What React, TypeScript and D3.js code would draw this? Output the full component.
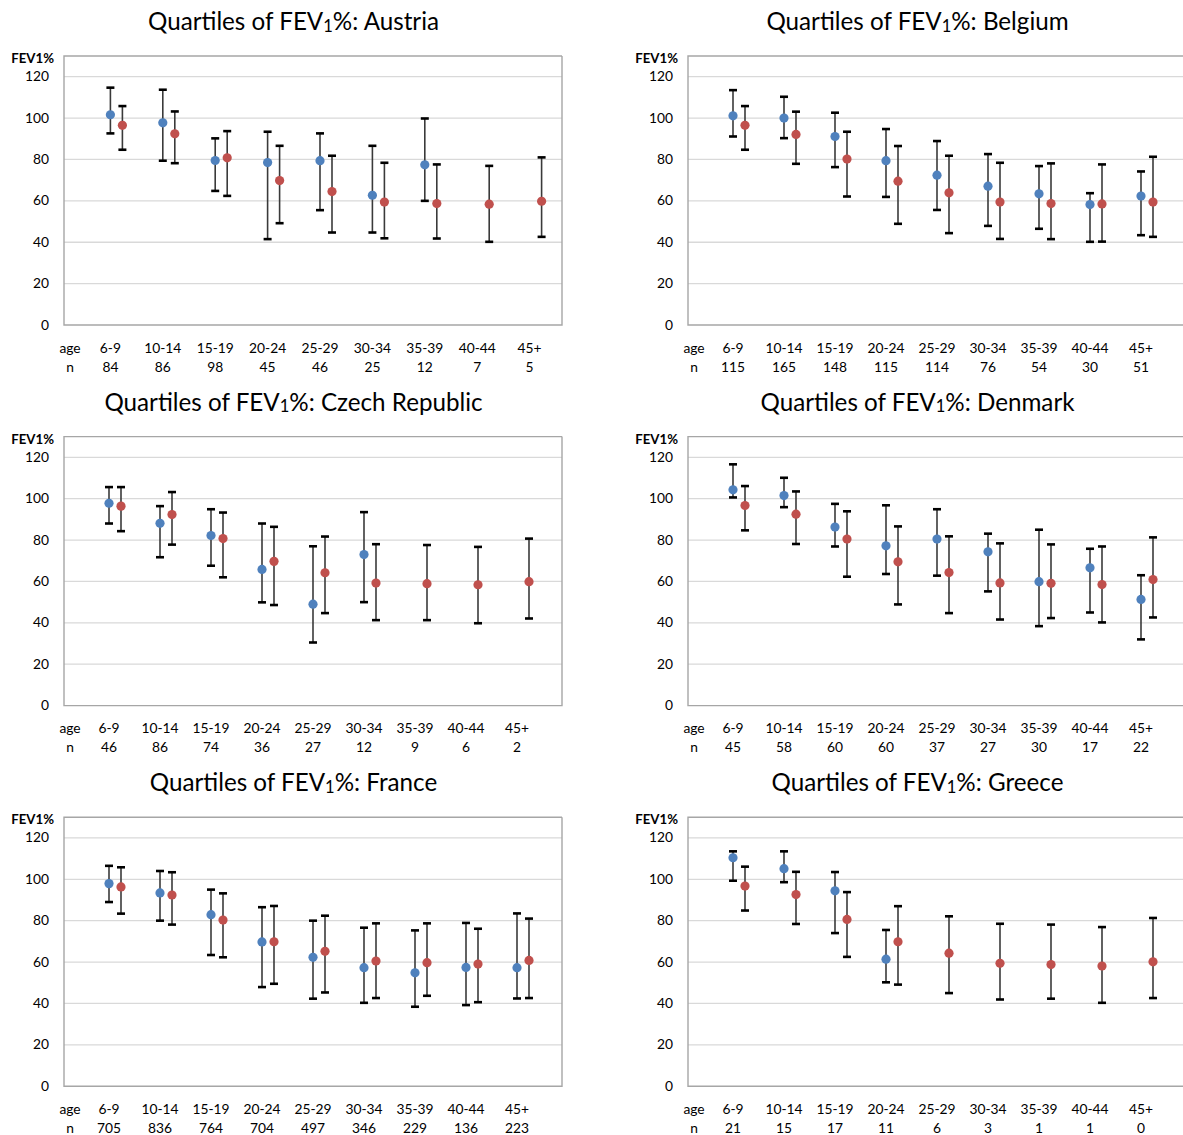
import React from "react";
import * as d3 from "d3";

// Age bands shown along the bottom of every panel
const ageGroups = ["6-9", "10-14", "15-19", "20-24", "25-29", "30-34", "35-39", "40-44", "45+"];
const yTicks = [0, 20, 40, 60, 80, 100, 120];

// Sample sizes per age band
const austriaN = [84, 86, 98, 45, 46, 25, 12, 7, 5];
const belgiumN = [115, 165, 148, 115, 114, 76, 54, 30, 51];
const czechN = [46, 86, 74, 36, 27, 12, 9, 6, 2];
const denmarkN = [45, 58, 60, 60, 37, 27, 30, 17, 22];
const franceN = [705, 836, 764, 704, 497, 346, 229, 136, 223];
const greeceN = [21, 15, 17, 11, 6, 3, 1, 1, 0];

// Observed quartiles [Q1, median, Q3] of FEV1% (null = too few patients)
const austriaObserved = [
  [92.6, 101.6, 114.7], [79.4, 97.7, 113.7], [64.8, 79.5, 90.2], [41.5, 78.5, 93.4],
  [55.5, 79.4, 92.6], [44.7, 62.7, 86.6], [60, 77.4, 99.8], null, null,
];
const belgiumObserved = [
  [91.1, 101.1, 113.5], [90.3, 100, 110.3], [76.3, 91.1, 102.6], [61.9, 79.4, 94.7],
  [55.6, 72.4, 88.9], [47.9, 67.1, 82.6], [46.5, 63.4, 76.8], [40.2, 58.2, 63.7], [43.4, 62.3, 74.2],
];
const czechObserved = [
  [88, 97.8, 105.6], [71.7, 88.1, 96.4], [67.6, 82.2, 94.9], [49.9, 65.8, 88],
  [30.5, 49, 77], [50, 73, 93.5], null, null, null,
];
const denmarkObserved = [
  [100.6, 104.3, 116.6], [95.9, 101.5, 110.1], [76.9, 86.3, 97.5], [63.6, 77.2, 96.8],
  [62.8, 80.5, 94.9], [55.2, 74.3, 83.1], [38.4, 59.9, 85], [45, 66.6, 75.8], [32, 51.3, 63],
];
const franceObserved = [
  [89, 97.9, 106.5], [80, 93.4, 104], [63.4, 82.9, 95], [47.9, 69.7, 86.5],
  [42.3, 62.3, 80], [40.3, 57.3, 76.6], [38.4, 54.8, 75.3], [39.2, 57.4, 78.9], [42.4, 57.3, 83.5],
];
const greeceObserved = [
  [99.3, 110.4, 113.5], [98.6, 105.1, 113.5], [74, 94.4, 103.5], [50.2, 61.4, 75.5],
  null, null, null, null, null,
];

// Expected quartiles [Q1, median, Q3] for the same age bands
const austriaExpected = [
  [84.7, 96.5, 105.8], [78.2, 92.4, 103.2], [62.4, 80.8, 93.7], [49.2, 69.8, 86.6],
  [44.7, 64.5, 81.8], [41.9, 59.4, 78.4], [41.8, 58.7, 77.6], [40.2, 58.4, 76.9], [42.6, 59.8, 81],
];
const belgiumExpected = [
  [84.7, 96.5, 105.8], [77.9, 92.1, 103.1], [62.1, 80.2, 93.4], [48.9, 69.5, 86.5],
  [44.4, 63.9, 81.8], [41.6, 59.4, 78.4], [41.5, 58.7, 78.1], [40.3, 58.5, 77.6], [42.6, 59.4, 81.3],
];
const czechExpected = [
  [84.3, 96.4, 105.6], [77.8, 92.3, 103.2], [62, 80.7, 93.3], [48.6, 69.7, 86.4],
  [44.7, 64.2, 81.7], [41.3, 59.2, 78], [41.3, 58.9, 77.6], [39.8, 58.4, 76.7], [42.1, 59.9, 80.7],
];
const denmarkExpected = [
  [84.7, 96.7, 106.1], [78.1, 92.5, 103.5], [62.3, 80.5, 93.9], [48.9, 69.5, 86.6],
  [44.7, 64.3, 81.8], [41.6, 59.3, 78.4], [42.3, 59.1, 77.9], [40.2, 58.5, 76.9], [42.6, 60.9, 81.3],
];
const franceExpected = [
  [83.4, 96.3, 105.8], [78.1, 92.4, 103.4], [62.3, 80.3, 93.2], [49.5, 69.8, 87.1],
  [45.3, 65.2, 82.4], [42.6, 60.5, 78.7], [43.7, 59.7, 78.7], [40.6, 59, 76.1], [42.6, 60.8, 81],
];
const greeceExpected = [
  [84.9, 96.7, 106.1], [78.4, 92.6, 103.6], [62.5, 80.6, 93.8], [49.1, 69.8, 87],
  [45, 64.3, 82.1], [41.9, 59.4, 78.5], [42.3, 58.8, 78.1], [40.3, 58.1, 76.9], [42.6, 60.1, 81.3],
];

const panels = [
  { country: "Austria", n: austriaN, observed: austriaObserved, expected: austriaExpected, col: 0, row: 0, step: 52.4 },
  { country: "Belgium", n: belgiumN, observed: belgiumObserved, expected: belgiumExpected, col: 1, row: 0, step: 51 },
  { country: "Czech Republic", n: czechN, observed: czechObserved, expected: czechExpected, col: 0, row: 1, step: 51 },
  { country: "Denmark", n: denmarkN, observed: denmarkObserved, expected: denmarkExpected, col: 1, row: 1, step: 51 },
  { country: "France", n: franceN, observed: franceObserved, expected: franceExpected, col: 0, row: 2, step: 51 },
  { country: "Greece", n: greeceN, observed: greeceObserved, expected: greeceExpected, col: 1, row: 2, step: 51 },
];

const W = 1183;
const H = 1135;
const FONT = "Lato, 'Open Sans', sans-serif";
const BLUE = "#4F81BD";
const RED = "#C0504D";

function ErrorDot({ x, q, yScale, color }) {
  const [lo, mid, hi] = q;
  const cap = 4;
  return (
    <g>
      <line x1={x} x2={x} y1={yScale(lo)} y2={yScale(hi)} stroke="#3a3a3a" strokeWidth={1.6} />
      <line x1={x - cap} x2={x + cap} y1={yScale(hi)} y2={yScale(hi)} stroke="#000" strokeWidth={2.6} />
      <line x1={x - cap} x2={x + cap} y1={yScale(lo)} y2={yScale(lo)} stroke="#000" strokeWidth={2.6} />
      <circle cx={x} cy={yScale(mid)} r={4.6} fill={color} />
    </g>
  );
}

function Panel({ p }) {
  const x0 = p.col * 624;
  const top = 56 + p.row * 380.6;
  const bottom = top + 269;
  const plotLeft = x0 + 64;
  const plotRight = p.col === 0 ? x0 + 562 : x0 + 575;

  const yScale = d3.scaleLinear().domain([0, 130]).range([bottom, top]);
  const xScale = d3
    .scalePoint()
    .domain(["", ...ageGroups])
    .range([plotLeft, plotLeft + ageGroups.length * p.step]);
  const off = 6;

  return (
    <g fontFamily={FONT}>
      <text x={x0 + 293.5} y={top - 26} textAnchor="middle" fontSize={24.2} fill="#000">
        <tspan>Quartiles of FEV</tspan>
        <tspan fontSize={16.5} dy={1.5}>1</tspan>
        <tspan dy={-1.5}>%: {p.country}</tspan>
      </text>

      {yTicks.filter((t) => t > 0).map((t) => (
        <line key={t} x1={plotLeft} x2={plotRight} y1={yScale(t)} y2={yScale(t)} stroke="#d9d9d9" strokeWidth={1.3} />
      ))}
      <path
        d={`M${plotRight},${top}H${plotLeft}V${bottom}H${plotRight}${p.col === 0 ? "V" + top : ""}`}
        fill="none"
        stroke="#a6a6a6"
        strokeWidth={1.4}
      />

      <text x={plotLeft - 10} y={top + 7} textAnchor="end" fontSize={13.2} fontWeight="bold" fill="#000">
        FEV1%
      </text>
      {yTicks.map((t) => (
        <text key={t} x={plotLeft - 15} y={yScale(t) + 4.6} textAnchor="end" fontSize={13.8} fill="#000">
          {t}
        </text>
      ))}

      {ageGroups.map((g, i) => (
        <g key={g}>
          {p.observed[i] && <ErrorDot x={xScale(g) - off} q={p.observed[i]} yScale={yScale} color={BLUE} />}
          {p.expected[i] && <ErrorDot x={xScale(g) + off} q={p.expected[i]} yScale={yScale} color={RED} />}
        </g>
      ))}

      <text x={plotLeft + 6} y={bottom + 27.5} textAnchor="middle" fontSize={13.8} fill="#000">age</text>
      <text x={plotLeft + 6} y={bottom + 46.5} textAnchor="middle" fontSize={13.8} fill="#000">n</text>
      {ageGroups.map((g, i) => (
        <g key={g}>
          <text x={xScale(g) - off} y={bottom + 27.5} textAnchor="middle" fontSize={13.8} fill="#000">{g}</text>
          <text x={xScale(g) - off} y={bottom + 46.5} textAnchor="middle" fontSize={13.8} fill="#000">{p.n[i]}</text>
        </g>
      ))}
    </g>
  );
}

export default function App() {
  return (
    <div style={{ position: "absolute", left: 0, top: 0, width: W, height: H, overflow: "hidden", background: "#fff" }}>
      <svg width={W} height={H} viewBox={`0 0 ${W} ${H}`} style={{ display: "block" }}>
        <rect width={W} height={H} fill="#fff" />
        {panels.map((p) => (
          <Panel key={p.country} p={p} />
        ))}
      </svg>
    </div>
  );
}
